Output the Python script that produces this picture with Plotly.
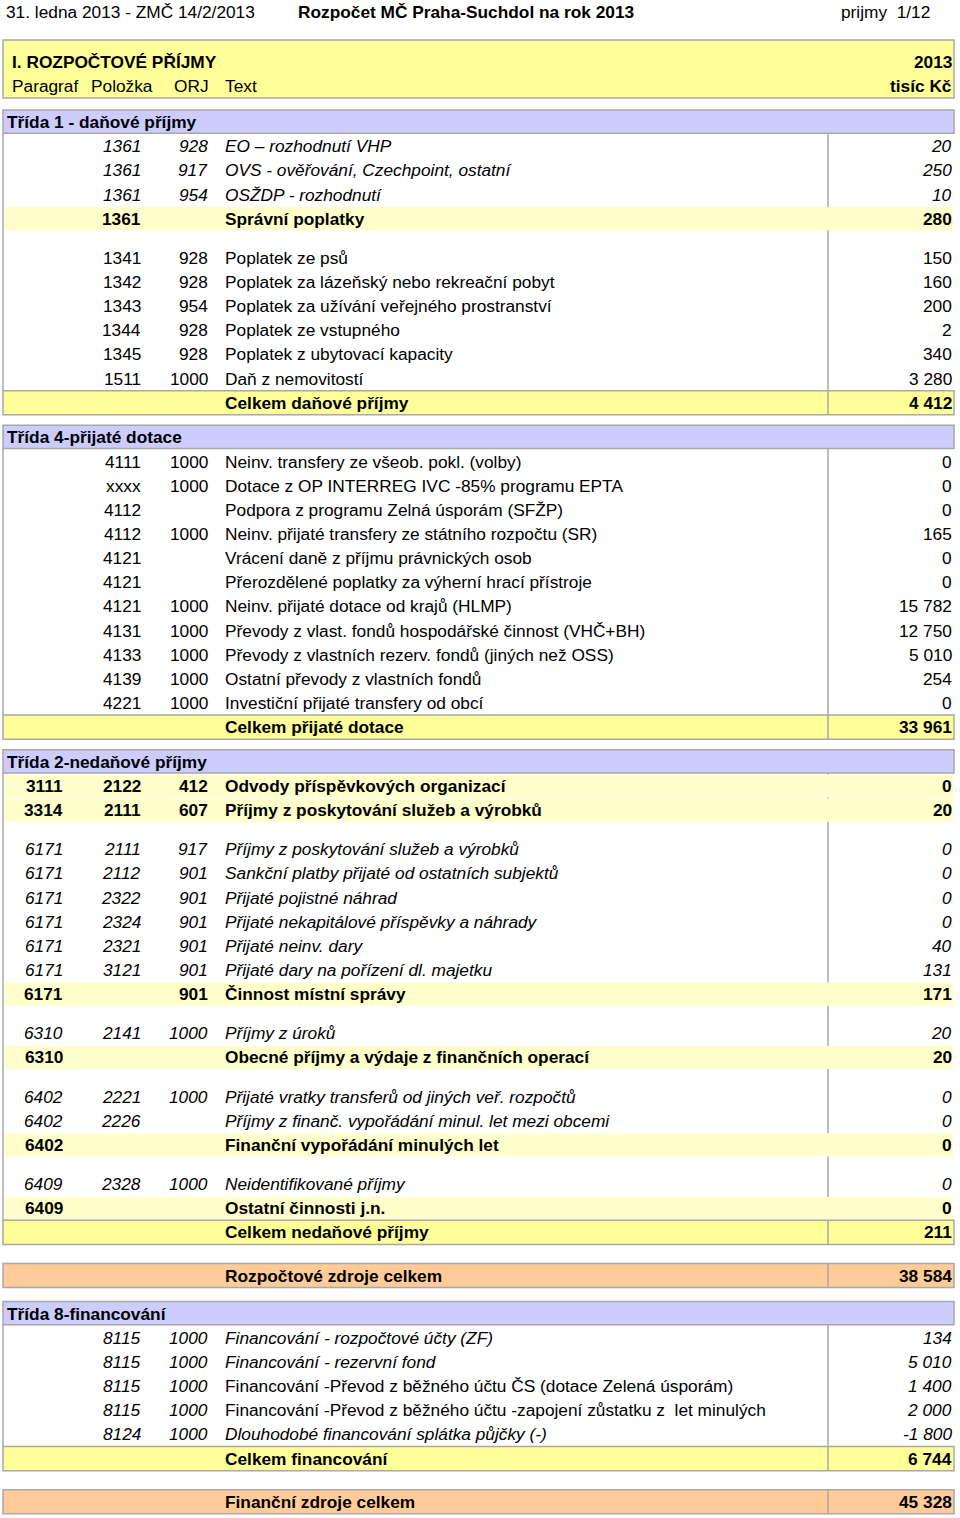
import plotly.graph_objects as go

# ---------------- data ----------------
title_left = "31. ledna 2013 - ZMČ 14/2/2013"
title_mid = "Rozpočet MČ Praha-Suchdol na rok 2013"
title_right = "prijmy  1/12"
header_title = "I. ROZPOČTOVÉ PŘÍJMY"
header_cols = ["Paragraf", "Položka", "ORJ", "Text"]
header_year = "2013"
header_unit = "tisíc Kč"

# (kind, paragraf, polozka, orj, text, value)
rows = [
    ("class", "", "", "", "Třída 1 - daňové příjmy", None),
    ("item_i", "", "1361", "928", "EO – rozhodnutí VHP", 20),
    ("item_i", "", "1361", "917", "OVS - ověřování, Czechpoint, ostatní", 250),
    ("item_i", "", "1361", "954", "OSŽDP - rozhodnutí", 10),
    ("sub", "", "1361", "", "Správní poplatky", 280),
    ("gap", "", "", "", "", None),
    ("item", "", "1341", "928", "Poplatek ze psů", 150),
    ("item", "", "1342", "928", "Poplatek za lázeňský nebo rekreační pobyt", 160),
    ("item", "", "1343", "954", "Poplatek za užívání veřejného prostranství", 200),
    ("item", "", "1344", "928", "Poplatek ze vstupného", 2),
    ("item", "", "1345", "928", "Poplatek z ubytovací kapacity", 340),
    ("item", "", "1511", "1000", "Daň z nemovitostí", 3280),
    ("total", "", "", "", "Celkem daňové příjmy", 4412),
    ("gap", "", "", "", "", None),
    ("class", "", "", "", "Třída 4-přijaté dotace", None),
    ("item", "", "4111", "1000", "Neinv. transfery ze všeob. pokl. (volby)", 0),
    ("item", "", "xxxx", "1000", "Dotace z OP INTERREG IVC -85% programu EPTA", 0),
    ("item", "", "4112", "", "Podpora z programu Zelná úsporám (SFŽP)", 0),
    ("item", "", "4112", "1000", "Neinv. přijaté transfery ze státního rozpočtu (SR)", 165),
    ("item", "", "4121", "", "Vrácení daně z příjmu právnických osob", 0),
    ("item", "", "4121", "", "Přerozdělené poplatky za výherní hrací přístroje", 0),
    ("item", "", "4121", "1000", "Neinv. přijaté dotace od krajů (HLMP)", 15782),
    ("item", "", "4131", "1000", "Převody z vlast. fondů hospodářské činnost (VHČ+BH)", 12750),
    ("item", "", "4133", "1000", "Převody z vlastních rezerv. fondů (jiných než OSS)", 5010),
    ("item", "", "4139", "1000", "Ostatní převody z vlastních fondů", 254),
    ("item", "", "4221", "1000", "Investiční přijaté transfery od obcí", 0),
    ("total", "", "", "", "Celkem přijaté dotace", 33961),
    ("gap", "", "", "", "", None),
    ("class", "", "", "", "Třída 2-nedaňové příjmy", None),
    ("sub", "3111", "2122", "412", "Odvody příspěvkových organizací", 0),
    ("sub", "3314", "2111", "607", "Příjmy z poskytování služeb a výrobků", 20),
    ("gap", "", "", "", "", None),
    ("item_i", "6171", "2111", "917", "Příjmy z poskytování služeb a výrobků", 0),
    ("item_i", "6171", "2112", "901", "Sankční platby přijaté od ostatních subjektů", 0),
    ("item_i", "6171", "2322", "901", "Přijaté pojistné náhrad", 0),
    ("item_i", "6171", "2324", "901", "Přijaté nekapitálové příspěvky a náhrady", 0),
    ("item_i", "6171", "2321", "901", "Přijaté neinv. dary", 40),
    ("item_i", "6171", "3121", "901", "Přijaté dary na pořízení dl. majetku", 131),
    ("sub", "6171", "", "901", "Činnost místní správy", 171),
    ("gap", "", "", "", "", None),
    ("item_i", "6310", "2141", "1000", "Příjmy z úroků", 20),
    ("sub", "6310", "", "", "Obecné příjmy a výdaje z finančních operací", 20),
    ("gap", "", "", "", "", None),
    ("item_i", "6402", "2221", "1000", "Přijaté vratky transferů od jiných veř. rozpočtů", 0),
    ("item_i", "6402", "2226", "", "Příjmy z finanč. vypořádání minul. let mezi obcemi", 0),
    ("sub", "6402", "", "", "Finanční vypořádání minulých let", 0),
    ("gap", "", "", "", "", None),
    ("item_i", "6409", "2328", "1000", "Neidentifikované příjmy", 0),
    ("sub", "6409", "", "", "Ostatní činnosti j.n.", 0),
    ("total", "", "", "", "Celkem nedaňové příjmy", 211),
    ("gap", "", "", "", "", None),
    ("grand", "", "", "", "Rozpočtové zdroje celkem", 38584),
    ("gap", "", "", "", "", None),
    ("class", "", "", "", "Třída 8-financování", None),
    ("item_i", "", "8115", "1000", "Financování - rozpočtové účty (ZF)", 134),
    ("item_i", "", "8115", "1000", "Financování - rezervní fond", 5010),
    ("item_ci", "", "8115", "1000", "Financování -Převod z běžného účtu ČS (dotace Zelená úsporám)", 1400),
    ("item_ci", "", "8115", "1000", "Financování -Převod z běžného účtu -zapojení zůstatku z  let minulých", 2000),
    ("item_i", "", "8124", "1000", "Dlouhodobé financování splátka půjčky (-)", -1800),
    ("total", "", "", "", "Celkem financování", 6744),
    ("gap", "", "", "", "", None),
    ("grand", "", "", "", "Finanční zdroje celkem", 45328),
]

# ---------------- layout constants ----------------
W, H = 960, 1518
FONT = "Liberation Sans, Arial, sans-serif"
FS = 17.3
PITCH = 24.15
LEFT, RIGHT = 3, 954
SEP_X = 828
X_PAR, X_POL, X_ORJ, X_TXT, X_VAL = 64, 142, 209, 224, 953
C_HEAD = "#FFFF99"
C_SUB = "#FFFFCC"
C_TOTAL = "#FFFF99"
C_CLASS = "#CCCCFF"
C_GRAND = "#FFCC99"
C_BORDER = "#A8A8A8"

annotations = []
line_shapes = []
fill_shapes = []
box_shapes = []


def ann(x, y, text, anchor="left", bold=False, italic=False):
    t = text
    if italic:
        t = "<i>" + t + "</i>"
    if bold:
        t = "<b>" + t + "</b>"
    annotations.append(dict(x=x, y=y, xref="x", yref="y", text=t, showarrow=False,
                            xanchor=anchor, yanchor="middle", borderpad=0,
                            font=dict(family=FONT, size=FS, color="#000")))


def fmt(v):
    return f"{v:,}".replace(",", " ")


# title
ann(5, 12, title_left)
ann(297, 12, title_mid, bold=True)
ann(931, 12, title_right, anchor="right")

# header box
box_shapes.append(dict(type="rect", xref="x", yref="y", x0=LEFT, x1=RIGHT, y0=40, y1=98,
                       fillcolor=C_HEAD, line=dict(color=C_BORDER, width=1.5)))
ann(11, 62, header_title, bold=True)
for label, x in zip(header_cols, [11, 90, 173, 224]):
    ann(x, 86, label)
ann(X_VAL, 62, header_year, anchor="right", bold=True)
ann(X_VAL, 86, header_unit, anchor="right", bold=True)

# rows
y = 110.0  # top of the first row
section_top = None
prev_kind = None
for i, (kind, par, pol, orj, text, val) in enumerate(rows):
    if kind == "gap":
        nxt = rows[i + 1][0]
        if nxt == "class":
            gap = 14 if prev_kind == "grand" else 10.5
        elif nxt == "grand":
            gap = 19
        else:
            gap = 15
        y += gap
        continue
    y0, y1 = y, y + PITCH
    yc = (y0 + y1) / 2
    bold = kind in ("class", "sub", "total", "grand")
    if kind == "class":
        box_shapes.append(dict(type="rect", xref="x", yref="y", x0=LEFT, x1=RIGHT, y0=y0, y1=y1 - 1,
                               fillcolor=C_CLASS, line=dict(color=C_BORDER, width=1.5)))
        ann(6, yc, text, bold=True)
        section_top = y1 - 1
    else:
        if kind in ("total", "grand"):
            color = C_TOTAL if kind == "total" else C_GRAND
            box_shapes.append(dict(type="rect", xref="x", yref="y", x0=LEFT, x1=RIGHT, y0=y0, y1=y1,
                                   fillcolor=color, line=dict(color=C_BORDER, width=1.5)))
            box_shapes.append(dict(type="line", xref="x", yref="y", x0=SEP_X, x1=SEP_X, y0=y0, y1=y1,
                                   line=dict(color=C_BORDER, width=1.5)))
            if kind == "total" and section_top is not None:
                line_shapes.append(dict(type="line", xref="x", yref="y", x0=LEFT, x1=LEFT,
                                        y0=section_top, y1=y0, line=dict(color=C_BORDER, width=1.5)))
                line_shapes.append(dict(type="line", xref="x", yref="y", x0=SEP_X, x1=SEP_X,
                                        y0=section_top, y1=y0, line=dict(color=C_BORDER, width=1.5)))
                section_top = None
        elif kind == "sub":
            fill_shapes.append(dict(type="rect", xref="x", yref="y", x0=LEFT + 2, x1=RIGHT - 1,
                                    y0=y0 + 0.5, y1=y1 - 0.5, fillcolor=C_SUB, line=dict(width=0)))
        code_it = kind in ("item_i", "item_ci")
        text_it = kind == "item_i"
        if par:
            ann(X_PAR, yc, par, anchor="right", bold=bold, italic=code_it)
        if pol:
            ann(X_POL, yc, pol, anchor="right", bold=bold, italic=code_it)
        if orj:
            ann(X_ORJ, yc, orj, anchor="right", bold=bold, italic=code_it)
        ann(X_TXT, yc, text, bold=bold, italic=text_it)
        if val is not None:
            ann(X_VAL, yc, fmt(val), anchor="right", bold=bold, italic=code_it)
    y = y1
    prev_kind = kind

fig = go.Figure()
fig.add_trace(go.Scatter(x=[0, W], y=[0, H], mode="markers", marker=dict(opacity=0),
                         hoverinfo="skip", showlegend=False))
fig.update_layout(
    width=W, height=H,
    margin=dict(l=0, r=0, t=0, b=0),
    paper_bgcolor="white", plot_bgcolor="white",
    xaxis=dict(range=[0, W], visible=False, fixedrange=True),
    yaxis=dict(range=[H, 0], visible=False, fixedrange=True),
    shapes=line_shapes + fill_shapes + box_shapes,
    annotations=annotations,
    showlegend=False,
)
fig.write_html("out.html", config={"displayModeBar": False},
               post_script="document.body.style.margin='0';document.body.style.padding='0';")
